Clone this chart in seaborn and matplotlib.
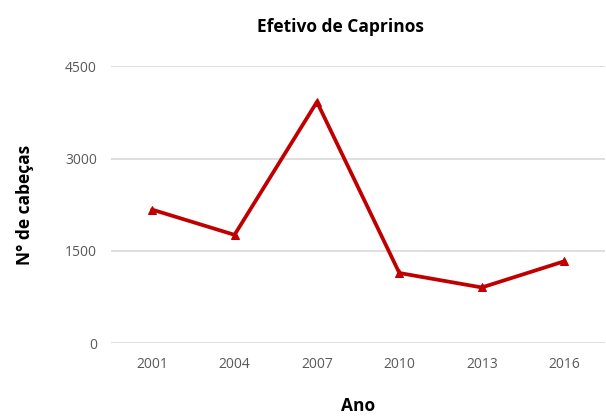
import pandas as pd
import seaborn as sns
import matplotlib.pyplot as plt

# data
anos = ['2001', '2004', '2007', '2010', '2013', '2016']
cabecas = [2170, 1760, 3920, 1140, 905, 1330]

df = pd.DataFrame({'Ano': anos, 'Cabecas': cabecas})

sns.set_theme(style='white')
plt.rcParams['font.family'] = ['Open Sans', 'DejaVu Sans']

fig = plt.figure(figsize=(6.06, 4.19), dpi=100)
ax = fig.add_axes([0.183, 0.181, 0.816, 0.661])

sns.lineplot(data=df, x='Ano', y='Cabecas', ax=ax, color='#C00000',
             linewidth=2.7, marker='^', markersize=6,
             markeredgecolor='#C00000', sort=False)

ax.set_xlim(-0.5, len(anos) - 0.5)
ax.set_ylim(0, 4500)
ax.set_yticks([0, 1500, 3000, 4500])
ax.grid(axis='y', color='#d9d9d9', linewidth=1.2)
ax.set_axisbelow(True)
for s in ax.spines.values():
    s.set_visible(False)
ax.tick_params(axis='both', colors='#595959', labelsize=10, length=0, pad=10)

ax.set_xlabel('Ano', fontsize=12.5, fontweight='bold', color='black', labelpad=18)
ax.set_ylabel('N° de cabeças', fontsize=12.5, fontweight='bold', color='black', labelpad=22)
fig.text(0.562, 0.935, 'Efetivo de Caprinos', ha='center', va='center',
         fontsize=12.5, fontweight='bold', color='black')

fig.savefig('out.png', dpi=100)
